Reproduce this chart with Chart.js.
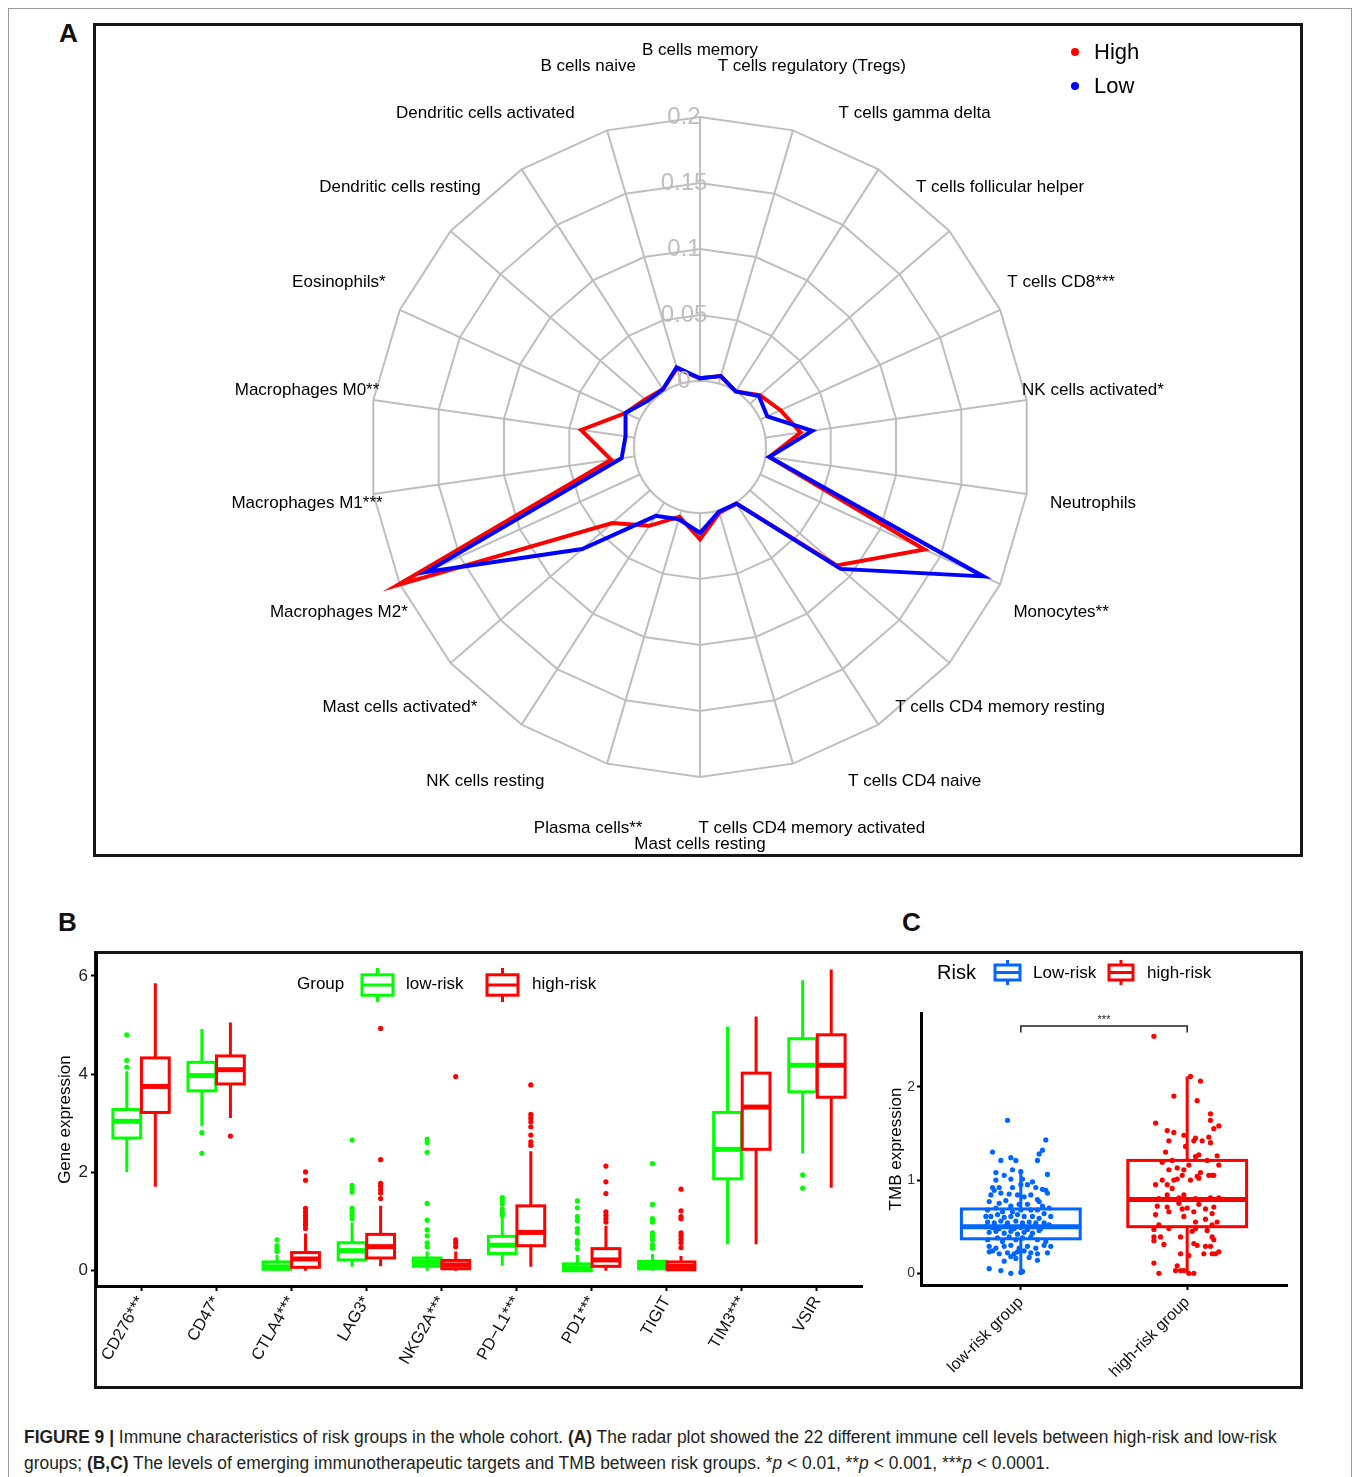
<!DOCTYPE html>
<html>
<head>
<meta charset="utf-8">
<script src="https://cdn.jsdelivr.net/npm/chart.js@4.4.1/dist/chart.umd.min.js"></script>
<style>
  html, body { margin: 0; padding: 0; background: #fff; }
  body { width: 1356px; height: 1477px; position: relative; overflow: hidden; font-family: "Liberation Sans", Arial, Helvetica, sans-serif; }
  .outer { position: absolute; left: 8px; top: 8px; width: 1344px; height: 1490px; border: 1px solid #9a9a9a; box-sizing: border-box; }
  .frame { position: absolute; border: 3px solid #151515; box-sizing: border-box; }
  .tag { position: absolute; font-weight: bold; font-size: 26px; line-height: 1; color: #111; }
  canvas { position: absolute; }
  .cap { position: absolute; left: 24px; top: 1424px; font-size: 17.5px; line-height: 26px; color: #231f20; white-space: nowrap; transform: scaleX(0.995); transform-origin: left top; }
</style>
</head>
<body>
<div class="outer"></div>
<div class="frame" style="left:93px;top:23px;width:1210px;height:834px;"></div>
<div class="frame" style="left:94px;top:951px;width:1209px;height:438px;"></div>
<div class="tag" style="left:59px;top:20px;">A</div>
<div class="tag" style="left:58px;top:909px;">B</div>
<div class="tag" style="left:902px;top:909px;">C</div>

<canvas id="radarChart" width="1205" height="828" style="left:95px;top:26px;"></canvas>
<canvas id="geneChart" width="840" height="445" style="left:40px;top:940px;"></canvas>
<canvas id="tmbChart" width="424" height="435" style="left:878px;top:953px;"></canvas>

<div class="cap"><b>FIGURE 9 |</b> Immune characteristics of risk groups in the whole cohort. <b>(A)</b> The radar plot showed the 22 different immune cell levels between high-risk and low-risk<br>groups; <b>(B,C)</b> The levels of emerging immunotherapeutic targets and TMB between risk groups. *<i>p</i> &lt; 0.01, **<i>p</i> &lt; 0.001, ***<i>p</i> &lt; 0.0001.</div>

<script>
const FONT = '"Liberation Sans", Arial, Helvetica, sans-serif';
Chart.defaults.font.family = FONT;

// ---------------- data: panel A (radar) ----------------
const cellLabels = [
  'B cells memory', 'T cells regulatory (Tregs)', 'T cells gamma delta', 'T cells follicular helper',
  'T cells CD8***', 'NK cells activated*', 'Neutrophils', 'Monocytes**',
  'T cells CD4 memory resting', 'T cells CD4 naive', 'T cells CD4 memory activated', 'Mast cells resting',
  'Plasma cells**', 'NK cells resting', 'Mast cells activated*', 'Macrophages M2*',
  'Macrophages M1***', 'Macrophages M0**', 'Eosinophils*', 'Dendritic cells resting',
  'Dendritic cells activated', 'B cells naive'
];
const highValues = [0.002, 0.006, 0.000, 0.010, 0.017, 0.027, 0.003, 0.137, 0.087, 0.001, 0.002, 0.020,
                    0.005, 0.021, 0.038, 0.202, 0.018, 0.041, 0.012, 0.005, 0.002, 0.012];
const lowValues  = [0.002, 0.006, 0.000, 0.009, 0.006, 0.036, 0.003, 0.186, 0.091, 0.001, 0.001, 0.015,
                    0.007, 0.012, 0.068, 0.178, 0.010, 0.007, 0.012, 0.003, 0.002, 0.013];
const radarTicks = [0, 0.05, 0.1, 0.15, 0.2];
const radarTickText = ['0', '0.05', '0.1', '0.15', '0.2'];

// ---------------- data: panel B (boxplots) ----------------
const geneLabels = ['CD276***', 'CD47*', 'CTLA4***', 'LAG3*', 'NKG2A***', 'PD\u2212L1***', 'PD1***', 'TIGIT', 'TIM3***', 'VSIR'];
const geneTicks = [0, 2, 4, 6];
// [lower whisker, Q1, median, Q3, upper whisker]
const lowRiskStats = [
  [2.01, 2.70, 3.04, 3.28, 4.06], [2.94, 3.66, 3.97, 4.24, 4.92], [0.00, 0.03, 0.08, 0.18, 0.32],
  [0.08, 0.22, 0.41, 0.57, 0.98], [0.00, 0.09, 0.17, 0.26, 0.39], [0.10, 0.35, 0.52, 0.70, 1.10],
  [0.00, 0.00, 0.05, 0.14, 0.32], [0.00, 0.04, 0.12, 0.19, 0.34], [0.54, 1.87, 2.47, 3.22, 4.97],
  [2.39, 3.64, 4.18, 4.72, 5.91]
];
const highRiskStats = [
  [1.71, 3.22, 3.75, 4.33, 5.85], [3.11, 3.80, 4.09, 4.37, 5.05], [0.00, 0.07, 0.24, 0.37, 0.76],
  [0.09, 0.26, 0.49, 0.74, 1.32], [0.00, 0.04, 0.12, 0.21, 0.39], [0.08, 0.51, 0.78, 1.32, 2.43],
  [0.00, 0.09, 0.22, 0.45, 0.91], [0.00, 0.02, 0.09, 0.18, 0.30], [0.54, 2.47, 3.33, 4.02, 5.17],
  [1.69, 3.53, 4.18, 4.80, 6.13]
];
const lowRiskOutliers = [
  [4.80, 4.28, 4.14], [2.81, 2.39], [0.63, 0.51, 0.45, 0.39],
  [2.66, 1.74, 1.67, 1.60, 1.27, 1.20, 1.13, 1.06], [2.68, 2.61, 2.41, 1.37, 1.03, 0.83, 0.71, 0.57, 0.49],
  [1.49, 1.43, 1.36, 1.26, 1.19, 1.13], [1.42, 1.28, 1.10, 1.02, 0.86, 0.78, 0.61, 0.55, 0.45],
  [2.18, 1.35, 1.06, 0.99, 0.77, 0.70, 0.63, 0.53, 0.46], [], [1.95, 1.68]
];
const highRiskOutliers = [
  [], [2.74], [2.01, 1.84, 1.27, 1.20, 1.13, 1.06, 0.99, 0.93, 0.86],
  [4.93, 2.26, 1.78, 1.72, 1.65, 1.58, 1.47], [3.95, 0.63, 0.57, 0.49],
  [3.78, 3.18, 3.11, 3.03, 2.93, 2.76, 2.62, 2.55], [2.13, 1.81, 1.57, 1.20, 1.13, 1.06, 0.99],
  [1.66, 1.22, 1.10, 1.06, 0.77, 0.71, 0.64, 0.57, 0.47], [], []
];

// ---------------- data: panel C (TMB) ----------------
const tmbGroups = ['low-risk group', 'high-risk group'];
const tmbTicks = [0, 1, 2];
const tmbLowStats = [0.00, 0.37, 0.50, 0.69, 1.11];
const tmbHighStats = [0.00, 0.50, 0.79, 1.21, 2.11];
const tmbLowPoints = [
  [0.92,1.64],[1.15,1.43],[1.13,1.32],[1.11,1.28],[1.10,1.21],[0.83,1.30],[0.88,1.21],[0.94,1.24],[0.97,1.21],[0.95,1.11],
  [0.85,1.08],[0.90,1.05],[1.00,1.09],[1.16,1.06],[0.85,1.00],[0.94,1.01],[1.01,1.01],[1.04,0.95],[1.07,0.98],[0.83,0.92],
  [0.84,0.89],[0.87,0.92],[0.95,0.92],[1.00,0.95],[1.09,0.92],[1.13,0.90],[1.15,0.89],[1.16,0.86],[0.82,0.84],[0.88,0.86],
  [0.93,0.85],[0.98,0.84],[1.02,0.82],[1.06,0.84],[1.10,0.79],[0.81,0.77],[0.87,0.75],[0.91,0.78],[0.94,0.72],[0.99,0.74],
  [1.04,0.74],[1.11,0.77],[1.13,0.72],[1.17,0.70],[0.80,0.68],[0.85,0.70],[0.89,0.66],[0.95,0.66],[1.00,0.68],[1.06,0.68],
  [1.10,0.68],[1.14,0.64],[0.79,0.61],[0.82,0.61],[0.86,0.63],[0.90,0.60],[0.94,0.61],[0.98,0.63],[1.02,0.61],[1.07,0.61],
  [1.11,0.59],[1.18,0.61],[0.80,0.55],[0.84,0.54],[0.88,0.56],[0.92,0.54],[0.97,0.56],[1.01,0.54],[1.05,0.55],[1.09,0.54],
  [1.14,0.54],[0.79,0.50],[0.83,0.49],[0.87,0.48],[0.91,0.51],[0.96,0.48],[1.00,0.49],[1.04,0.47],[1.08,0.50],[1.12,0.48],
  [1.17,0.52],[0.81,0.44],[0.85,0.45],[0.90,0.43],[0.94,0.45],[0.98,0.42],[1.02,0.44],[1.07,0.43],[1.11,0.46],[0.80,0.36],
  [0.86,0.38],[0.89,0.34],[0.93,0.39],[0.97,0.36],[1.01,0.38],[1.06,0.39],[1.10,0.36],[1.15,0.34],[0.81,0.29],[0.85,0.27],
  [0.90,0.29],[0.94,0.30],[0.99,0.27],[1.04,0.29],[1.09,0.27],[1.14,0.30],[1.18,0.29],[0.81,0.23],[0.83,0.24],[0.87,0.21],
  [0.92,0.22],[0.96,0.21],[0.98,0.23],[1.02,0.24],[1.06,0.22],[1.10,0.21],[1.16,0.22],[0.90,0.13],[0.94,0.18],[0.97,0.16],
  [1.05,0.17],[1.10,0.14],[0.81,0.05],[0.88,0.03],[0.94,0.00],[1.01,0.02],[1.00,0.01]
];
const tmbHighPoints = [
  [1.80,2.54],[2.02,2.11],[2.08,2.06],[1.92,1.90],[2.06,1.85],[2.14,1.71],[1.81,1.61],[2.14,1.64],[2.19,1.58],[2.16,1.55],
  [1.88,1.53],[1.92,1.51],[1.98,1.48],[2.05,1.45],[1.89,1.42],[2.04,1.42],[2.09,1.42],[2.13,1.46],[2.14,1.40],[1.99,1.36],
  [1.87,1.30],[2.05,1.25],[2.07,1.27],[2.18,1.26],[2.12,1.21],[1.91,1.21],[1.85,1.19],[2.19,1.16],[2.01,1.16],[1.89,1.11],
  [1.94,1.13],[1.98,1.11],[2.08,1.08],[1.97,1.05],[2.13,1.05],[2.16,1.05],[1.85,1.00],[1.92,1.00],[2.02,1.00],[2.06,1.04],
  [2.07,1.02],[1.94,1.01],[1.88,0.95],[1.81,0.95],[1.91,0.91],[1.83,0.80],[1.88,0.84],[1.98,0.84],[1.95,0.81],[2.05,0.80],
  [2.14,0.81],[2.19,0.81],[1.82,0.72],[1.88,0.71],[1.95,0.75],[2.00,0.70],[1.97,0.69],[2.07,0.74],[2.11,0.69],[2.16,0.71],
  [1.89,0.66],[1.98,0.61],[2.04,0.66],[2.15,0.64],[1.81,0.63],[2.11,0.58],[2.05,0.55],[2.15,0.52],[1.83,0.52],[1.80,0.47],
  [1.89,0.48],[2.05,0.48],[2.03,0.45],[2.12,0.46],[1.80,0.39],[1.84,0.39],[1.96,0.39],[2.15,0.39],[2.16,0.36],[1.80,0.35],
  [1.86,0.31],[2.04,0.32],[2.06,0.30],[2.11,0.29],[2.14,0.29],[2.19,0.23],[1.96,0.21],[2.10,0.21],[2.15,0.21],[2.01,0.19],
  [2.17,0.21],[1.80,0.11],[1.94,0.08],[1.83,0.00],[1.93,0.03],[1.96,0.03],[1.98,0.03],[2.01,0.00],[2.04,0.00],[2.18,0.55],
  [2.15,1.05]
];

const RED = '#FF0000';
const BLUE = '#0000FF';
const GREEN = '#00FF00';
const TMB_BLUE = '#0066FF';
const GRID = '#BEBEBE';

// ============================================================
// helper: one ggplot-style boxplot drawn through the chart scales
// ============================================================
function drawBox(ctx, xs, ys, cx, halfW, s, color, fill) {
  const [lo, q1, med, q3, hi] = s;
  const xc = xs.getPixelForValue(cx);
  const x0 = xs.getPixelForValue(cx - halfW);
  const x1 = xs.getPixelForValue(cx + halfW);
  const yLo = ys.getPixelForValue(lo), yQ1 = ys.getPixelForValue(q1);
  const yMed = ys.getPixelForValue(med);
  const yQ3 = ys.getPixelForValue(q3), yHi = ys.getPixelForValue(hi);
  ctx.save();
  ctx.strokeStyle = color;
  ctx.lineWidth = 3;
  ctx.beginPath();
  ctx.moveTo(xc, yHi); ctx.lineTo(xc, yQ3);
  ctx.moveTo(xc, yQ1); ctx.lineTo(xc, yLo);
  ctx.stroke();
  if (fill) {
    ctx.fillStyle = fill;
    ctx.fillRect(x0, yQ3, x1 - x0, yQ1 - yQ3);
  }
  ctx.strokeRect(x0, yQ3, x1 - x0, yQ1 - yQ3);
  ctx.lineWidth = 5;
  ctx.beginPath();
  ctx.moveTo(x0, yMed); ctx.lineTo(x1, yMed);
  ctx.stroke();
  ctx.restore();
}

// legend key for a boxplot
function drawKey(ctx, x0, x1, yTop, yBot, color) {
  const h = yBot - yTop;
  const xc = (x0 + x1) / 2;
  ctx.save();
  ctx.strokeStyle = color;
  ctx.lineWidth = 3;
  ctx.beginPath();
  ctx.moveTo(xc, yTop); ctx.lineTo(xc, yTop + h * 0.2);
  ctx.moveTo(xc, yBot - h * 0.2); ctx.lineTo(xc, yBot);
  ctx.stroke();
  ctx.strokeRect(x0, yTop + h * 0.2, x1 - x0, h * 0.6);
  ctx.beginPath();
  ctx.moveTo(x0, yTop + h * 0.5); ctx.lineTo(x1, yTop + h * 0.5);
  ctx.stroke();
  ctx.restore();
}

// ============================================================
// 1. RADAR (panel A)
// ============================================================
const radarDecor = {
  id: 'radarDecor',
  beforeDatasetsDraw(chart) {
    const r = chart.scales.r;
    const ctx = chart.ctx;
    const r0 = r.getDistanceFromCenterForValue(0);
    ctx.save();
    ctx.beginPath();
    ctx.arc(r.xCenter, r.yCenter, r0, 0, Math.PI * 2);
    ctx.fillStyle = '#fff';
    ctx.fill();
    ctx.strokeStyle = GRID;
    ctx.lineWidth = 2;
    ctx.stroke();
    ctx.restore();
  },
  afterDatasetsDraw(chart) {
    const r = chart.scales.r;
    const ctx = chart.ctx;
    ctx.save();
    // radial tick labels
    ctx.font = '24px ' + FONT;
    ctx.fillStyle = GRID;
    ctx.textAlign = 'center';
    ctx.textBaseline = 'middle';
    radarTicks.forEach((v, i) => {
      const p = r.getPointPosition(0, r.getDistanceFromCenterForValue(v));
      ctx.fillText(radarTickText[i], r.xCenter - 16, p.y);
    });
    // category labels
    ctx.font = '17px ' + FONT;
    ctx.fillStyle = '#000';
    const dist = r.drawingArea * 397 / 330;
    cellLabels.forEach((lab, i) => {
      const p = r.getPointPosition(i, dist);
      ctx.fillText(lab, p.x, p.y);
    });
    // legend
    ctx.font = '22px ' + FONT;
    ctx.textAlign = 'left';
    [['High', RED, 26], ['Low', BLUE, 60]].forEach(([t, c, y]) => {
      ctx.beginPath();
      ctx.arc(980, y, 4, 0, Math.PI * 2);
      ctx.fillStyle = c;
      ctx.fill();
      ctx.fillStyle = '#000';
      ctx.fillText(t, 999, y + 1);
    });
    ctx.restore();
  }
};

new Chart(document.getElementById('radarChart'), {
  type: 'radar',
  data: {
    labels: cellLabels,
    datasets: [
      { label: 'High', data: highValues, borderColor: RED, borderWidth: 4, fill: false, pointRadius: 0, order: 1 },
      { label: 'Low', data: lowValues, borderColor: BLUE, borderWidth: 4, fill: false, pointRadius: 0, order: 0 }
    ]
  },
  options: {
    responsive: false,
    animation: false,
    layout: { padding: { left: 275, right: 270, top: 91, bottom: 77 } },
    elements: { line: { tension: 0 } },
    plugins: { legend: { display: false }, tooltip: { enabled: false } },
    scales: {
      r: {
        min: -0.05,
        max: 0.2,
        ticks: { stepSize: 0.05, display: false },
        grid: { color: GRID, lineWidth: 2 },
        angleLines: { color: GRID, lineWidth: 2 },
        pointLabels: { display: false }
      }
    }
  },
  plugins: [radarDecor]
});

// ============================================================
// 2. BOXPLOT (panel B)
// ============================================================
const DODGE = 0.19, HALF_B = 0.185;
const geneBoxes = {
  id: 'geneBoxes',
  beforeDatasetsDraw(chart) {
    const { ctx, scales: { x, y } } = chart;
    geneLabels.forEach((_, i) => {
      drawBox(ctx, x, y, i - DODGE, HALF_B, lowRiskStats[i], GREEN, '#fff');
      drawBox(ctx, x, y, i + DODGE, HALF_B, highRiskStats[i], RED, '#fff');
    });
  },
  afterDraw(chart) {
    const ctx = chart.ctx;
    ctx.save();
    ctx.font = '17px ' + FONT;
    ctx.fillStyle = '#000';
    ctx.textBaseline = 'middle';
    ctx.fillText('Group', 257, 44);
    drawKey(ctx, 322, 353, 28, 62, GREEN);
    ctx.fillStyle = '#000';
    ctx.fillText('low-risk', 366, 44);
    drawKey(ctx, 447, 478, 28, 62, RED);
    ctx.fillStyle = '#000';
    ctx.fillText('high-risk', 492, 44);
    ctx.restore();
  }
};

const lowOut = [], highOut = [];
lowRiskOutliers.forEach((arr, i) => arr.forEach(v => lowOut.push({ x: i - DODGE, y: v })));
highRiskOutliers.forEach((arr, i) => arr.forEach(v => highOut.push({ x: i + DODGE, y: v })));

new Chart(document.getElementById('geneChart'), {
  type: 'scatter',
  data: {
    datasets: [
      { label: 'low-risk', data: lowOut, backgroundColor: GREEN, borderWidth: 0, pointRadius: 2.6 },
      { label: 'high-risk', data: highOut, backgroundColor: RED, borderWidth: 0, pointRadius: 2.6 }
    ]
  },
  options: {
    responsive: false,
    animation: false,
    layout: { padding: { left: 0, right: 18, top: 13, bottom: 0 } },
    plugins: { legend: { display: false }, tooltip: { enabled: false } },
    scales: {
      x: {
        type: 'linear',
        min: -0.6,
        max: 9.6,
        afterBuildTicks: (s) => { s.ticks = geneLabels.map((_, i) => ({ value: i })); },
        afterFit: (s) => { s.height = 99; },
        ticks: {
          callback: (v) => geneLabels[v],
          autoSkip: false,
          minRotation: 60,
          maxRotation: 60,
          padding: 2,
          color: '#111',
          font: { size: 16.5 }
        },
        grid: { drawOnChartArea: false, drawTicks: true, tickLength: 5, tickColor: '#000', tickWidth: 2 },
        border: { display: true, color: '#000', width: 3 }
      },
      y: {
        min: -0.31,
        max: 6.46,
        afterBuildTicks: (s) => { s.ticks = geneTicks.map(v => ({ value: v })); },
        afterFit: (s) => { s.width = 56; },
        ticks: { padding: 3, color: '#222', font: { size: 17 } },
        grid: { drawOnChartArea: false, drawTicks: true, tickLength: 5, tickColor: '#000', tickWidth: 2 },
        border: { display: true, color: '#000', width: 3 },
        title: { display: true, text: 'Gene expression', color: '#000', font: { size: 17 }, padding: { top: 15, bottom: 0 } }
      }
    }
  },
  plugins: [geneBoxes]
});

// ============================================================
// 3. TMB (panel C)
// ============================================================
const HALF_C = 0.357;
const tmbDecor = {
  id: 'tmbDecor',
  beforeDatasetsDraw(chart) {
    const { ctx, scales: { x, y } } = chart;
    drawBox(ctx, x, y, 1, HALF_C, tmbLowStats, TMB_BLUE, null);
    drawBox(ctx, x, y, 2, HALF_C, tmbHighStats, RED, null);
    // significance bracket
    ctx.save();
    ctx.strokeStyle = '#222';
    ctx.lineWidth = 1.5;
    ctx.beginPath();
    ctx.moveTo(x.getPixelForValue(1), y.getPixelForValue(2.58));
    ctx.lineTo(x.getPixelForValue(1), y.getPixelForValue(2.65));
    ctx.lineTo(x.getPixelForValue(2), y.getPixelForValue(2.65));
    ctx.lineTo(x.getPixelForValue(2), y.getPixelForValue(2.58));
    ctx.stroke();
    ctx.fillStyle = '#222';
    ctx.font = '11px ' + FONT;
    ctx.textAlign = 'center';
    ctx.textBaseline = 'middle';
    ctx.fillText('***', x.getPixelForValue(1.5), y.getPixelForValue(2.72));
    ctx.restore();
  },
  afterDraw(chart) {
    const ctx = chart.ctx;
    ctx.save();
    ctx.fillStyle = '#000';
    ctx.textBaseline = 'middle';
    ctx.font = '20px ' + FONT;
    ctx.fillText('Risk', 59, 20);
    drawKey(ctx, 117, 142, 7, 32, TMB_BLUE);
    drawKey(ctx, 231, 255, 7, 32, RED);
    ctx.fillStyle = '#000';
    ctx.font = '17px ' + FONT;
    ctx.fillText('Low-risk', 155, 20);
    ctx.fillText('high-risk', 269, 20);
    ctx.restore();
  }
};

new Chart(document.getElementById('tmbChart'), {
  type: 'scatter',
  data: {
    datasets: [
      { label: 'Low-risk', data: tmbLowPoints.map(p => ({ x: p[0], y: p[1] })), backgroundColor: TMB_BLUE, borderWidth: 0, pointRadius: 2.6 },
      { label: 'high-risk', data: tmbHighPoints.map(p => ({ x: p[0], y: p[1] })), backgroundColor: RED, borderWidth: 0, pointRadius: 2.6 }
    ]
  },
  options: {
    responsive: false,
    animation: false,
    layout: { padding: { left: 0, right: 15, top: 60, bottom: 0 } },
    plugins: { legend: { display: false }, tooltip: { enabled: false } },
    scales: {
      x: {
        type: 'linear',
        min: 0.4,
        max: 2.6,
        afterBuildTicks: (s) => { s.ticks = tmbGroups.map((_, i) => ({ value: i + 1 })); },
        afterFit: (s) => { s.height = 103; },
        ticks: {
          callback: (v) => tmbGroups[v - 1],
          autoSkip: false,
          minRotation: 45,
          maxRotation: 45,
          padding: 3,
          color: '#111',
          font: { size: 16 }
        },
        grid: { drawOnChartArea: false, drawTicks: true, tickLength: 5, tickColor: '#000', tickWidth: 2 },
        border: { display: true, color: '#000', width: 3 }
      },
      y: {
        min: -0.125,
        max: 2.79,
        afterBuildTicks: (s) => { s.ticks = tmbTicks.map(v => ({ value: v })); },
        afterFit: (s) => { s.width = 43; },
        ticks: { padding: 2, color: '#333', font: { size: 14 } },
        grid: { drawOnChartArea: false, drawTicks: true, tickLength: 4, tickColor: '#000', tickWidth: 2 },
        border: { display: true, color: '#000', width: 3 },
        title: { display: true, text: 'TMB expression', color: '#000', font: { size: 17 }, padding: { top: 8, bottom: 0 } }
      }
    }
  },
  plugins: [tmbDecor]
});
</script>
</body>
</html>
